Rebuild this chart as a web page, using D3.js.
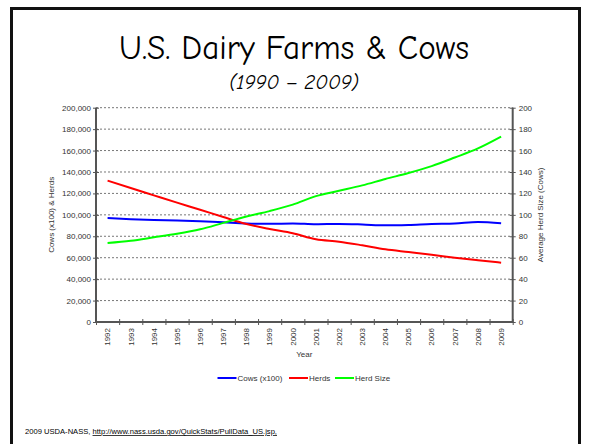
<!DOCTYPE html>
<html>
<head>
<meta charset="utf-8">
<script src="https://cdn.jsdelivr.net/npm/d3@7"></script>
<style>
  html, body { margin: 0; padding: 0; background: #fff; }
  svg { display: block; }
</style>
</head>
<body>
<svg id="chart" width="590" height="444"></svg>
<script>
const years = [1992,1993,1994,1995,1996,1997,1998,1999,2000,2001,2002,2003,2004,2005,2006,2007,2008,2009];
const cows = [97000,96000,95200,94800,94000,93000,92000,91600,92000,91200,91500,91000,90200,90600,91500,92000,93300,92200];
const herds = [131900,125000,118200,111400,104800,98000,91500,86800,82800,77200,75000,71600,67800,65300,62800,60000,57600,55400];
const herdSize = [73.7,75.8,79,82.3,86.5,92.5,98.5,103.5,109.5,117.5,122.5,127.5,133.5,139,145.5,153.5,162,173];
const leftTicks = [0,20000,40000,60000,80000,100000,120000,140000,160000,180000,200000];
const rightTicks = [0,20,40,60,80,100,120,140,160,180,200];
const seriesNames = ["Cows (x100)", "Herds", "Herd Size"];
const seriesColors = ["#0000ff", "#ff0000", "#00ff00"];

const svg = d3.select("#chart");
const L = 96, R = 512.7, T = 107.7, B = 322;
const labelFont = "'Liberation Sans', Arial, sans-serif";
const textCol = "#333";

// slide frame
svg.append("path")
  .attr("d", `M11.5,450 L11.5,8.5 L579.5,8.5 L579.5,450`)
  .attr("fill", "none").attr("stroke", "#111").attr("stroke-width", 3);

// titles
svg.append("text").attr("x", 294).attr("y", 59).attr("text-anchor", "middle")
  .attr("font-family", "'Comic Sans MS', 'Comic Neue', 'Open Sans', sans-serif")
  .attr("font-size", 35).attr("textLength", 350).attr("lengthAdjust", "spacingAndGlyphs")
  .attr("fill", "#000").text("U.S. Dairy Farms & Cows");
svg.append("text").attr("x", 294).attr("y", 89).attr("text-anchor", "middle")
  .attr("font-family", "'Comic Sans MS', 'Comic Neue', 'Open Sans', sans-serif")
  .attr("font-style", "italic")
  .attr("font-size", 20).attr("textLength", 130).attr("lengthAdjust", "spacingAndGlyphs")
  .attr("fill", "#000").text("(1990 \u2013 2009)");

const x = d3.scaleBand().domain(years).range([L, R]);
const xEdge = d3.scaleLinear().domain([0, years.length]).range([L, R]);
const yL = d3.scaleLinear().domain([0, 200000]).range([B, T]);
const yR = d3.scaleLinear().domain([0, 200]).range([B, T]);

// gridlines
svg.append("g").selectAll("line").data(leftTicks.filter(d => d > 0)).join("line")
  .attr("x1", L).attr("x2", R).attr("y1", d => yL(d)).attr("y2", d => yL(d))
  .attr("stroke", "#777").attr("stroke-width", 1).attr("stroke-dasharray", "2,2");

// left axis
const gL = svg.append("g").attr("transform", `translate(${L},0)`)
  .call(d3.axisLeft(yL).tickValues(leftTicks).tickFormat(d3.format(",")).tickSize(3).tickPadding(2));
gL.selectAll(".tick line").attr("x1", 3).attr("x2", -3);
// right axis
const gR = svg.append("g").attr("transform", `translate(${R},0)`)
  .call(d3.axisRight(yR).tickValues(rightTicks).tickSize(3).tickPadding(3));
gR.selectAll(".tick line").attr("x1", -3).attr("x2", 3);
// bottom axis: tick marks at band edges
const gB = svg.append("g").attr("transform", `translate(0,${B})`)
  .call(d3.axisBottom(xEdge).tickValues(d3.range(0, years.length + 1)).tickFormat("").tickSize(3));
gB.selectAll(".tick line").attr("y1", -3).attr("y2", 3);
// bottom labels centered in bands
const gBL = svg.append("g").attr("transform", `translate(0,${B})`)
  .call(d3.axisBottom(x).tickSize(0).tickFormat(d => String(d)));
gBL.select(".domain").remove();
gBL.selectAll(".tick text")
  .attr("transform", "translate(0,6) rotate(-90)")
  .attr("text-anchor", "end").attr("x", 0).attr("y", 0).attr("dy", "0.35em");

[gL, gR, gB, gBL].forEach(g => {
  g.select(".domain").attr("stroke", "#555").attr("stroke-width", 2);
  g.selectAll(".tick line").attr("stroke", "#555").attr("stroke-width", 1);
  g.selectAll(".tick text").attr("font-family", labelFont).attr("font-size", 8).attr("fill", textCol);
});
gB.select(".domain").attr("d", `M${L},0H${R}`);
gL.select(".domain").attr("d", `M0,${T}V${B}`);
gR.select(".domain").attr("d", `M0,${T}V${B}`);

// axis titles
svg.append("text").attr("transform", `translate(54,${(T + B) / 2}) rotate(-90)`)
  .attr("text-anchor", "middle").attr("font-family", labelFont).attr("font-size", 8).attr("fill", textCol)
  .text("Cows (x100) & Herds");
svg.append("text").attr("transform", `translate(543,${(T + B) / 2}) rotate(-90)`)
  .attr("text-anchor", "middle").attr("font-family", labelFont).attr("font-size", 8).attr("fill", textCol)
  .text("Average Herd Size (Cows)");
svg.append("text").attr("x", (L + R) / 2).attr("y", 357).attr("text-anchor", "middle")
  .attr("font-family", labelFont).attr("font-size", 8).attr("fill", textCol).text("Year");

// series lines
const cx = d => x(d) + x.bandwidth() / 2;
const lineL = d3.line().x(d => cx(d[0])).y(d => yL(d[1])).curve(d3.curveMonotoneX);
const lineR = d3.line().x(d => cx(d[0])).y(d => yR(d[1])).curve(d3.curveMonotoneX);
const seriesData = [
  { vals: cows, line: lineL },
  { vals: herds, line: lineL },
  { vals: herdSize, line: lineR }
];
seriesData.forEach((s, i) => {
  svg.append("path").datum(years.map((y, j) => [y, s.vals[j]]))
    .attr("d", s.line).attr("fill", "none")
    .attr("stroke", seriesColors[i]).attr("stroke-width", 2);
});

// legend
const legendX = [217.5, 289, 335];
const lg = svg.append("g");
seriesNames.forEach((n, i) => {
  lg.append("line").attr("x1", legendX[i]).attr("x2", legendX[i] + 19)
    .attr("y1", 378).attr("y2", 378).attr("stroke", seriesColors[i]).attr("stroke-width", 2);
  lg.append("text").attr("x", legendX[i] + 20).attr("y", 378).attr("dy", "0.35em")
    .attr("font-family", labelFont).attr("font-size", 8).attr("fill", textCol).text(n);
});

// source note
const note = svg.append("text").attr("x", 25).attr("y", 434)
  .attr("font-family", labelFont).attr("font-size", 7.6).attr("fill", "#000");
note.append("tspan").text("2009 USDA-NASS, ");
note.append("tspan").attr("text-decoration", "underline")
  .text("http://www.nass.usda.gov/QuickStats/PullData_US.jsp,");
</script>
</body>
</html>
